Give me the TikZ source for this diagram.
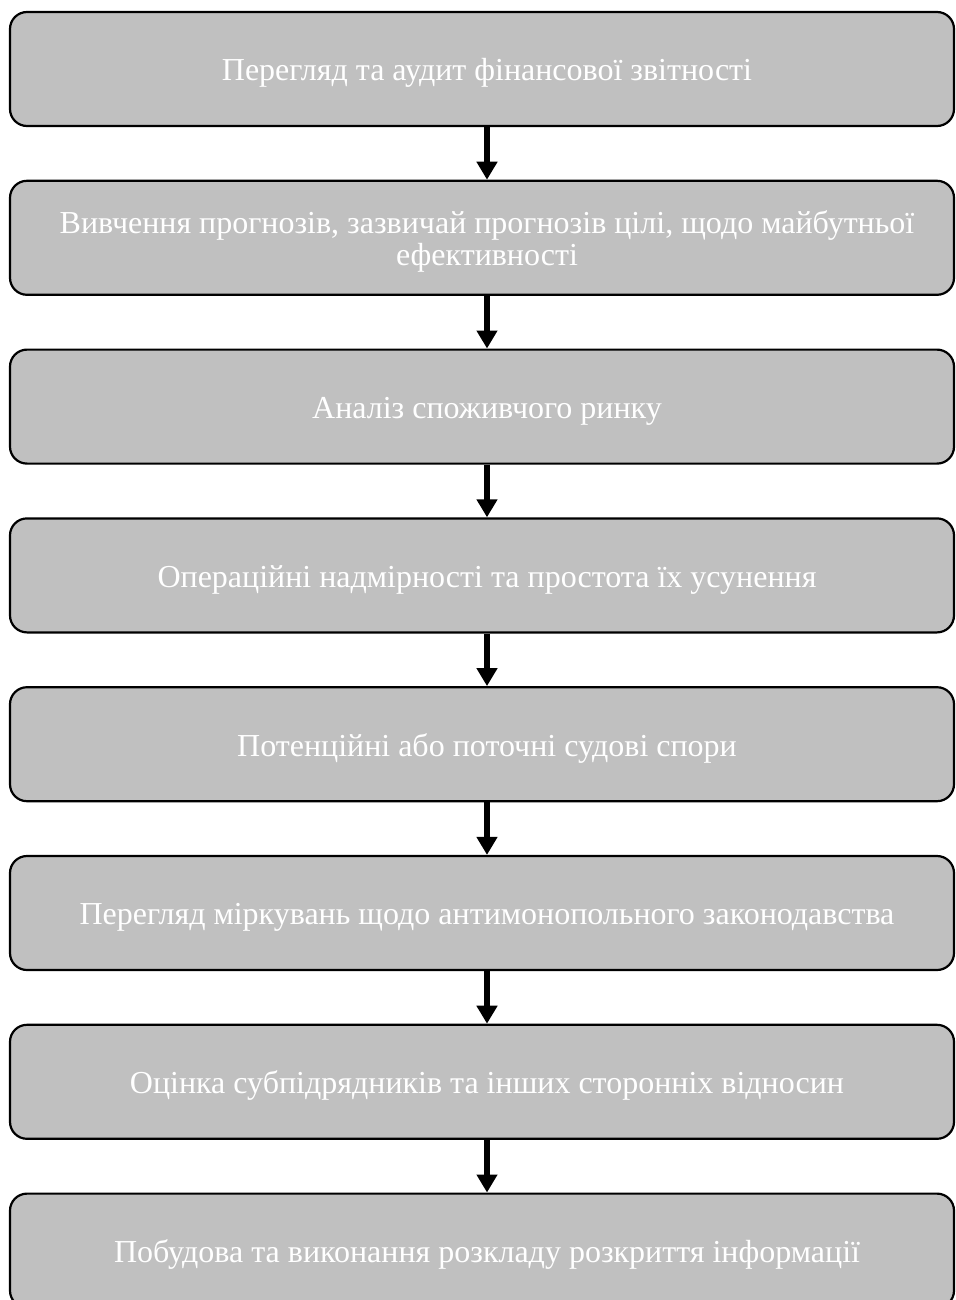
\documentclass[tikz,border=0pt]{standalone}
\usepackage{fontspec}
\setmainfont{Liberation Serif}
\usetikzlibrary{arrows.meta,calc}
\definecolor{boxgrey}{HTML}{C0C0C0}
\begin{document}
\begin{tikzpicture}[x=1pt,y=-1pt,
  stagebox/.style={draw=black, line width=2.2pt, fill=boxgrey, rounded corners=17pt,
    minimum width=944pt, minimum height=114pt, inner sep=0pt},
  stagetext/.style={text=white, font=\fontsize{32}{32}\selectfont, align=center, inner sep=0pt},
  flow/.style={line width=6pt, -{Triangle[width=20pt,length=18pt]}}]
\useasboundingbox (0,0) rectangle (955,1300);
\fill[white] (0,0) rectangle (955,1300);

% stage boxes, top to bottom
\foreach \i in {1,...,8}{
  \node[stagebox] (b\i) at (482,{69+(\i-1)*168.8}) {};
}

% stage captions (single lines sit on a baseline 70 below the box top)
\node[stagetext, anchor=base] (t1) at ($(b1.north)+(5,70)$) {Перегляд та аудит фінансової звітності};
\node[stagetext, anchor=base] (t2) at ($(b2.north)+(5,86)$) {Вивчення прогнозів, зазвичай прогнозів цілі, щодо майбутньої\\ефективності};
\node[stagetext, anchor=base] (t3) at ($(b3.north)+(5,70)$) {Аналіз споживчого ринку};
\node[stagetext, anchor=base] (t4) at ($(b4.north)+(5,70)$) {Операційні надмірності та простота їх усунення};
\node[stagetext, anchor=base] (t5) at ($(b5.north)+(5,70)$) {Потенційні або поточні судові спори};
\node[stagetext, anchor=base] (t6) at ($(b6.north)+(5,70)$) {Перегляд міркувань щодо антимонопольного законодавства};
\node[stagetext, anchor=base] (t7) at ($(b7.north)+(5,70)$) {Оцінка субпідрядників та інших сторонніх відносин};
\node[stagetext, anchor=base] (t8) at ($(b8.north)+(5,70)$) {Побудова та виконання розкладу розкриття інформації};

% connectors
\foreach \i [evaluate=\i as \j using int(\i+1)] in {1,...,7}{
  \draw[flow] ([xshift=5pt]b\i.south) -- ([xshift=5pt]b\j.north);
}
\end{tikzpicture}
\end{document}
